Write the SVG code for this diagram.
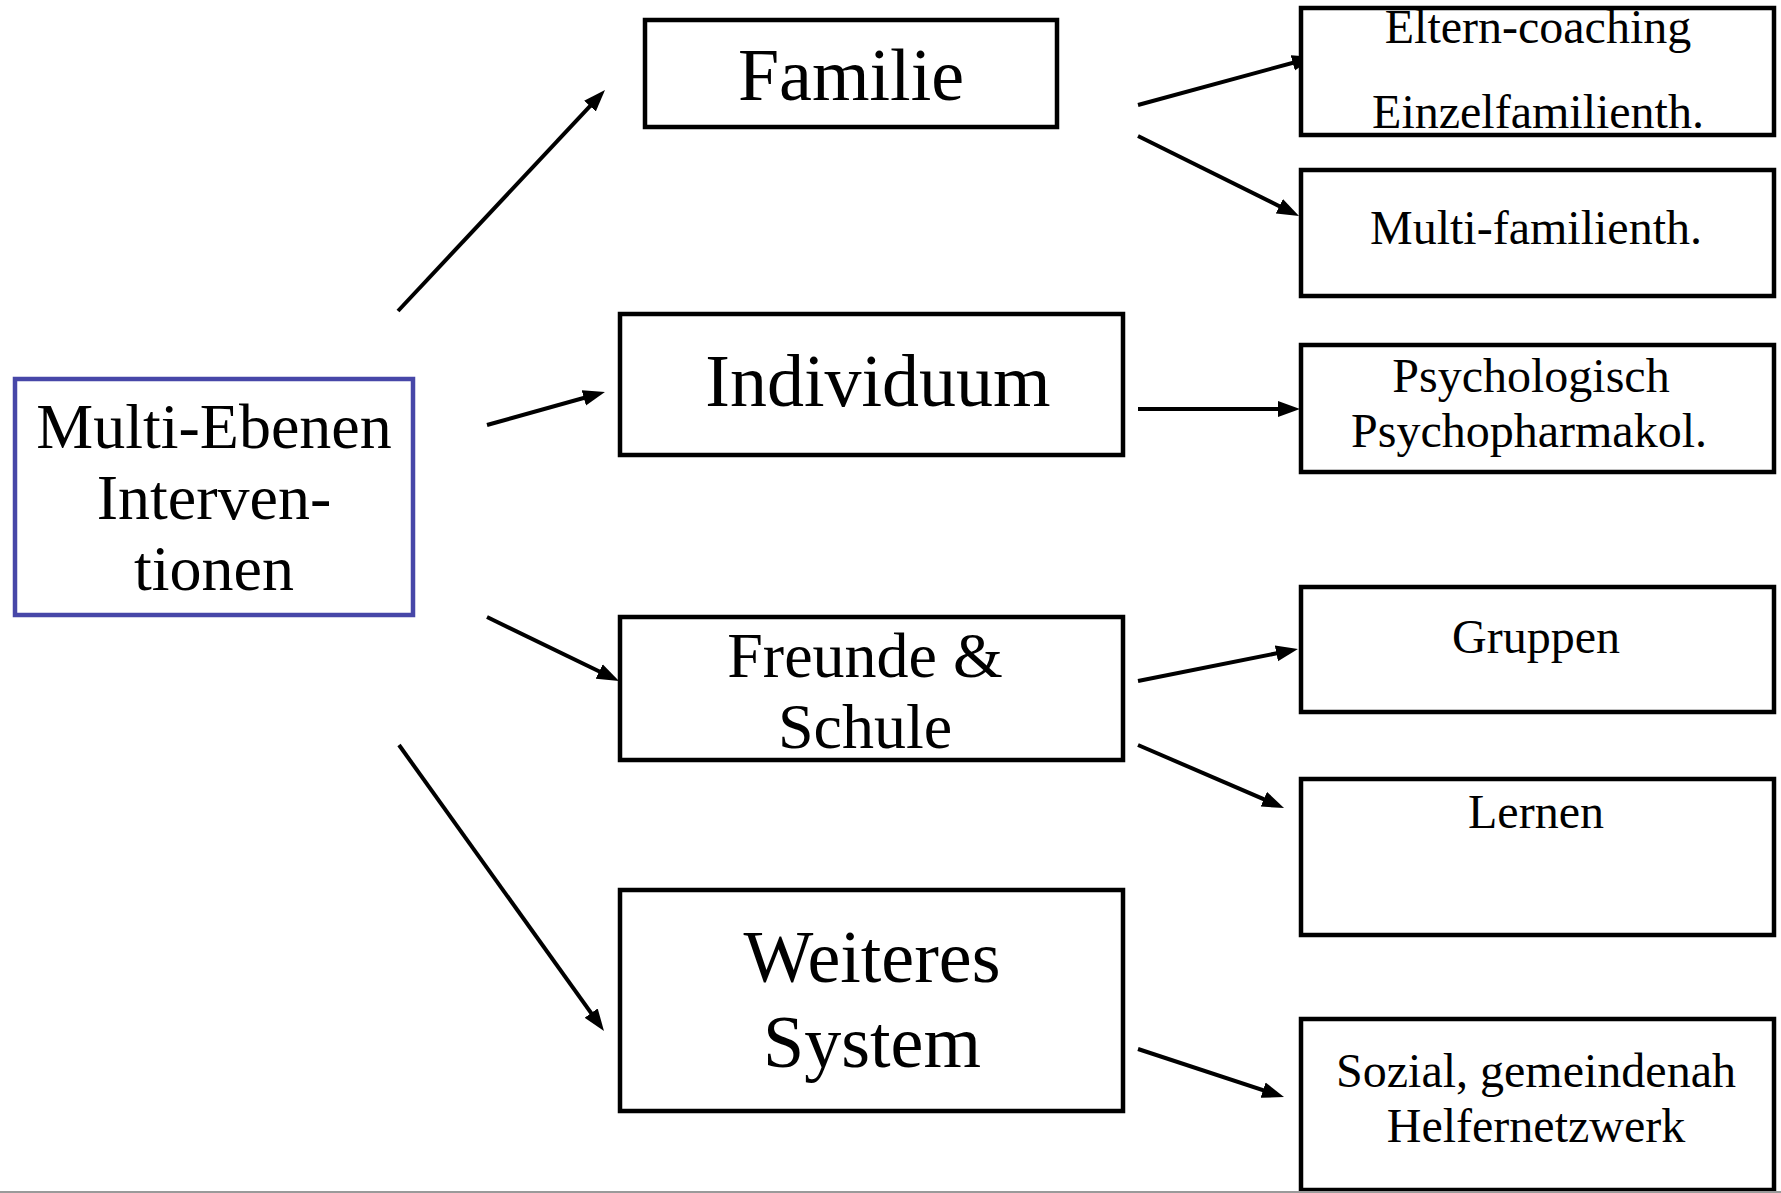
<svg xmlns="http://www.w3.org/2000/svg" width="1781" height="1193" viewBox="0 0 1781 1193">
  <style>
    .box { fill: #ffffff; stroke: #000000; stroke-width: 4.5; }
    .main { fill: #ffffff; stroke: #4747A8; stroke-width: 4.5; }
    .t { font-family: "Liberation Serif", "Times New Roman", serif; fill: #000000; text-anchor: middle; }
    .big { font-size: 74px; }
    .mid { font-size: 64px; }
    .small { font-size: 48px; }
    .conn { stroke: #000000; stroke-width: 4; fill: none; marker-end: url(#arrow); }
  </style>
  <defs>
    <marker id="arrow" markerUnits="userSpaceOnUse" markerWidth="22" markerHeight="17" refX="10" refY="8" orient="auto" viewBox="0 0 22 16">
      <path d="M0,0 L22,8 L0,16 z" fill="#000000"/>
    </marker>
  </defs>
  <rect width="1781" height="1193" fill="#ffffff"/>

  <g id="connectors">
    <line class="conn" x1="398" y1="311" x2="596.8" y2="98.8"/>
    <line class="conn" x1="487" y1="425" x2="593.4" y2="395.2"/>
    <line class="conn" x1="487" y1="617" x2="608.2" y2="675.8"/>
    <line class="conn" x1="399" y1="745" x2="597.0" y2="1021.2"/>
    <line class="conn" x1="1138" y1="105" x2="1302.4" y2="60.2"/>
    <line class="conn" x1="1138" y1="136" x2="1288.3" y2="210.7"/>
    <line class="conn" x1="1138" y1="409" x2="1288" y2="409"/>
    <line class="conn" x1="1138" y1="681" x2="1286.2" y2="651.4"/>
    <line class="conn" x1="1138" y1="745" x2="1273" y2="803.2"/>
    <line class="conn" x1="1138" y1="1049" x2="1272.6" y2="1093.3"/>
  </g>

  <g id="node-multi">
    <rect class="main" x="15" y="379" width="398" height="236"/>
    <text class="t mid" x="214" y="448">Multi-Ebenen</text>
    <text class="t mid" x="214" y="519">Interven-</text>
    <text class="t mid" x="214" y="590">tionen</text>
  </g>

  <g id="node-familie">
    <rect class="box" x="645" y="20" width="412" height="107"/>
    <text class="t big" x="851" y="100">Familie</text>
  </g>

  <g id="node-individuum">
    <rect class="box" x="620" y="314" width="503" height="141"/>
    <text class="t big" x="878" y="406">Individuum</text>
  </g>

  <g id="node-freunde">
    <rect class="box" x="620" y="617" width="503" height="143"/>
    <text class="t mid" x="865" y="677">Freunde &amp;</text>
    <text class="t mid" x="865" y="748">Schule</text>
  </g>

  <g id="node-weiteres">
    <rect class="box" x="620" y="890" width="503" height="221"/>
    <text class="t big" x="872" y="982">Weiteres</text>
    <text class="t big" x="872" y="1067">System</text>
  </g>

  <g id="node-eltern">
    <rect class="box" x="1301" y="8" width="473" height="127"/>
    <text class="t small" x="1538" y="43">Eltern-coaching</text>
    <text class="t small" x="1538" y="128">Einzelfamilienth.</text>
  </g>

  <g id="node-multifam">
    <rect class="box" x="1301" y="170" width="473" height="126"/>
    <text class="t small" x="1536" y="244">Multi-familienth.</text>
  </g>

  <g id="node-psych">
    <rect class="box" x="1301" y="345" width="473" height="127"/>
    <text class="t small" x="1531" y="392">Psychologisch</text>
    <text class="t small" x="1529" y="447">Psychopharmakol.</text>
  </g>

  <g id="node-gruppen">
    <rect class="box" x="1301" y="587" width="473" height="125"/>
    <text class="t small" x="1536" y="653">Gruppen</text>
  </g>

  <g id="node-lernen">
    <rect class="box" x="1301" y="779" width="473" height="156"/>
    <text class="t small" x="1536" y="828">Lernen</text>
  </g>

  <g id="node-sozial">
    <rect class="box" x="1301" y="1019" width="473" height="171"/>
    <text class="t small" x="1536" y="1087">Sozial, gemeindenah</text>
    <text class="t small" x="1536" y="1142">Helfernetzwerk</text>
  </g>

  <line x1="0" y1="1192" x2="1781" y2="1192" stroke="#9a9a9a" stroke-width="2"/>
</svg>
